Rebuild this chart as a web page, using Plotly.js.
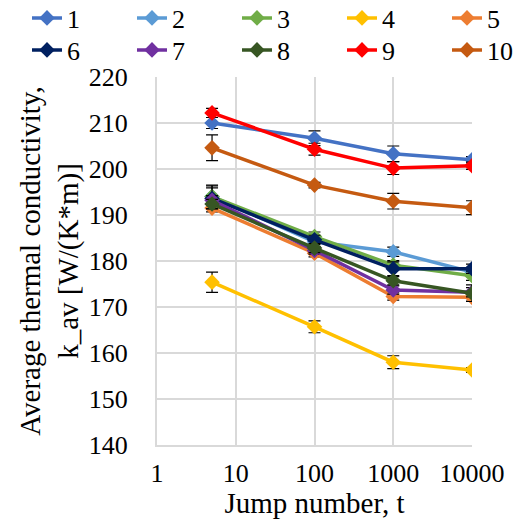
<!DOCTYPE html>
<html>
<head>
<meta charset="utf-8">
<script src="https://cdn.plot.ly/plotly-3.0.1.min.js"></script>
<style>html,body{margin:0;padding:0;background:#fff}#chart{width:517px;height:519px}</style>
</head>
<body>
<div id="chart"></div>
<script>
const jumps = [5, 100, 1000, 10000];
const seriesNames = ["1","2","3","4","5","6","7","8","9","10"];
const s1  = [210.0, 206.7, 203.3, 202.0];
const s2  = [194.0, 184.2, 182.0, 177.6];
const s3  = [194.0, 185.3, 179.1, 176.8];
const s4  = [175.4, 165.7, 158.0, 156.3];
const s5  = [191.5, 181.7, 172.3, 172.1];
const s6  = [193.6, 184.6, 178.3, 178.3];
const s7  = [193.2, 182.3, 173.7, 173.2];
const s8  = [192.4, 182.8, 175.7, 173.0];
const s9  = [212.2, 204.3, 200.2, 200.7];
const s10 = [204.6, 196.5, 193.0, 191.6];
const e1  = [1.2, 1.6, 1.7, 0.7];
const e2  = [2.5, 1.0, 1.0, 1.0];
const e3  = [2.3, 1.0, 1.0, 1.0];
const e4  = [2.2, 1.3, 1.4, 0.5];
const e5  = [0.8, 0.8, 0.8, 0.8];
const e6  = [2.3, 1.0, 1.5, 1.0];
const e7  = [1.0, 0.8, 0.9, 1.0];
const e8  = [1.0, 1.0, 0.9, 1.8];
const e9  = [1.0, 1.3, 1.4, 0.8];
const e10 = [2.8, 0.6, 1.7, 1.5];
const colors = ["#4472C4","#5B9BD5","#70AD47","#FFC000","#ED7D31","#002060","#7030A0","#375623","#FF0000","#C55A11"];
const values = [s1,s2,s3,s4,s5,s6,s7,s8,s9,s10];
const errors = [e1,e2,e3,e4,e5,e6,e7,e8,e9,e10];
const yTicks = [140,150,160,170,180,190,200,210,220];
const xTicks = [1,10,100,1000,10000];

const legendKey = i => (i === 0 ? 'legend' : 'legend' + (i + 1));

const traces = values.map((v,i)=>({
  x: jumps, y: v, name: seriesNames[i], type: 'scatter', mode: 'lines+markers',
  legend: legendKey(i),
  line: {color: colors[i], width: 3.5},
  marker: {symbol: 'diamond', size: 12, color: colors[i]},
  error_y: {type: 'data', array: errors[i], visible: true, color: '#000', thickness: 1.2, width: 6}
}));

const FAM = 'Liberation Serif';
const layout = {
  width: 517, height: 519,
  margin: {l: 157, r: 45, t: 77, b: 74},
  paper_bgcolor: '#fff', plot_bgcolor: '#fff',
  font: {family: FAM, size: 25, color: '#000'},
  showlegend: true,
  xaxis: {
    type: 'log', range: [0, 4], tickvals: xTicks, ticktext: xTicks.map(String),
    showgrid: true, gridcolor: '#d9d9d9', gridwidth: 2,
    showline: true, linecolor: '#d9d9d9', linewidth: 2, zeroline: false,
    ticks: 'outside', ticklen: 4, tickcolor: 'rgba(0,0,0,0)',
    tickfont: {family: FAM, size: 26, color: '#000'},
    title: {text: 'Jump number, t', font: {family: FAM, size: 29, color: '#000'}, standoff: 0}
  },
  yaxis: {
    range: [140, 220], tickvals: yTicks,
    showgrid: true, gridcolor: '#d9d9d9', gridwidth: 2,
    showline: true, linecolor: '#d9d9d9', linewidth: 2, zeroline: false,
    ticks: 'outside', ticklen: 22, tickcolor: 'rgba(0,0,0,0)',
    tickfont: {family: FAM, size: 26, color: '#000'},
    title: {text: 'Average thermal conductivity,<br>k_av [W/(K*m)]', font: {family: FAM, size: 29, color: '#000'}, standoff: 2}
  }
};
// one legend box per series, laid out as 2 rows x 5 columns like the reference
values.forEach((v,i)=>{
  const col = i % 5, row = Math.floor(i / 5);
  layout[legendKey(i)] = {
    orientation: 'h', xref: 'container', yref: 'container',
    x: (27 + col * 105) / 517, xanchor: 'left',
    y: 1 - (18 + row * 32) / 519, yanchor: 'middle',
    font: {family: FAM, size: 26, color: '#000'},
    borderwidth: 0, bgcolor: 'rgba(0,0,0,0)'
  };
});
Plotly.newPlot('chart', traces, layout, {displayModeBar: false, staticPlot: true});
</script>
</body>
</html>
